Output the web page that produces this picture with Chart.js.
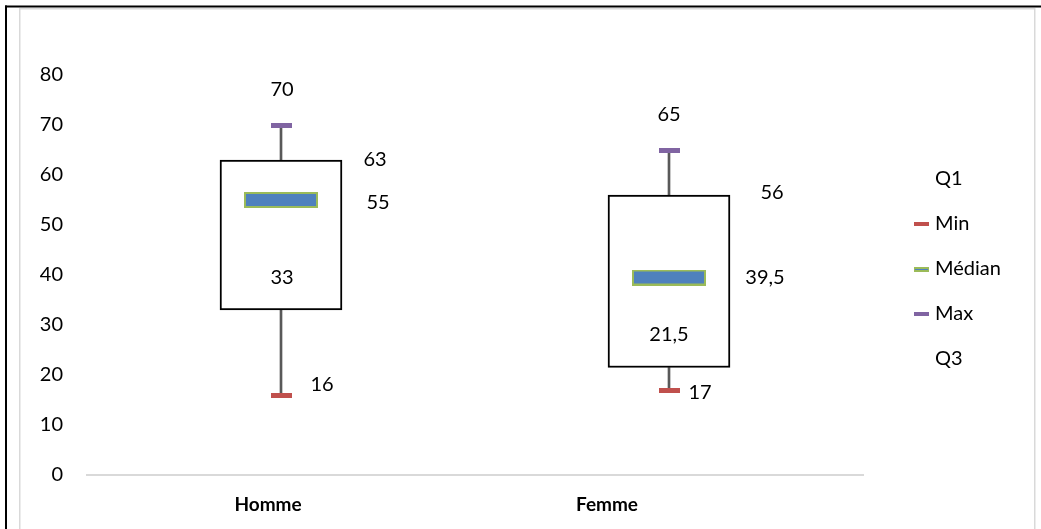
<!DOCTYPE html>
<html lang="fr">
<head>
<meta charset="utf-8">
<title>Boîtes à moustaches – Homme / Femme</title>
<script src="https://cdn.jsdelivr.net/npm/chart.js@4.4.1/dist/chart.umd.min.js"></script>
<style>
  html, body { margin: 0; padding: 0; background: #fff; }
  #wrap { position: relative; width: 1041px; height: 529px; }
  canvas { display: block; }
</style>
</head>
<body>
<div id="wrap"><canvas id="chart" width="1041" height="529"></canvas></div>
<script>
// ---- Data ----------------------------------------------------------------
const categories   = ['Homme', 'Femme'];
const seriesNames  = ['Q1', 'Min', 'Médian', 'Max', 'Q3'];
const q1Values     = [33, 21.5];
const minValues    = [16, 17];
const medianValues = [55, 39.5];
const maxValues    = [70, 65];
const q3Values     = [63, 56];
const yTickValues  = [0, 10, 20, 30, 40, 50, 60, 70, 80];

// ---- Styles --------------------------------------------------------------
const FONT_FAMILY = 'Lato, "Open Sans", sans-serif';
const TEXT_COLOR  = '#000000';
const COLORS = {
  min: '#C0504D',
  median: '#4F81BD',
  medianEdge: '#9BBB59',
  max: '#8064A2',
  whisker: '#595959',
  boxEdge: '#000000',
  frame: '#D9D9D9'
};

// small offscreen canvases used as point styles
function markCanvas(w, h, fill, edge, edgeW) {
  const c = document.createElement('canvas');
  c.width = w; c.height = h;
  const g = c.getContext('2d');
  g.fillStyle = fill;
  g.fillRect(0, 0, w, h);
  if (edge) {
    g.strokeStyle = edge;
    g.lineWidth = edgeW;
    g.strokeRect(edgeW / 2, edgeW / 2, w - edgeW, h - edgeW);
  }
  return c;
}
function medianLegendMark() {
  const c = document.createElement('canvas');
  c.width = 15; c.height = 5;
  const g = c.getContext('2d');
  g.fillStyle = COLORS.medianEdge;
  g.fillRect(0, 0, 15, 5);
  g.fillStyle = COLORS.median;
  g.fillRect(1, 2, 13, 1);
  return c;
}

const minMark    = markCanvas(21, 5, COLORS.min);
const maxMark    = markCanvas(21, 5, COLORS.max);
const medianMark = markCanvas(74, 16, COLORS.median, COLORS.medianEdge, 2);

const legendMarks = [null, markCanvas(15, 4, COLORS.min), medianLegendMark(), markCanvas(15, 4, COLORS.max), null];

const fmt = v => String(v).replace('.', ',');

// ---- Plugins -------------------------------------------------------------
// outer frame of the chart object
const framePlugin = {
  id: 'frame',
  beforeDraw(chart) {
    const { ctx, width, height } = chart;
    ctx.save();
    ctx.fillStyle = '#ffffff';
    ctx.fillRect(0, 0, width, height);
    ctx.fillStyle = COLORS.frame;
    ctx.fillRect(19, 8, 1016, 1.5);
    ctx.fillRect(19, 8, 1.5, height - 8);
    ctx.fillRect(1034, 8, 1.5, height - 8);
    ctx.fillStyle = '#000000';
    ctx.fillRect(5, 5.5, width - 5, 2);
    ctx.fillRect(5, 5.5, 2, height - 5.5);
    ctx.restore();
  }
};

// value labels next to each statistic
const valueLabelPlugin = {
  id: 'valueLabels',
  afterDatasetsDraw(chart, args, opts) {
    const { ctx, scales: { x, y } } = chart;
    ctx.save();
    ctx.font = opts.font;
    ctx.fillStyle = TEXT_COLOR;
    ctx.textAlign = 'center';
    ctx.textBaseline = 'middle';
    opts.groups.forEach(gp => {
      gp.values.forEach((v, i) => {
        const px = x.getPixelForValue(i) + gp.offsets[i][0];
        const py = y.getPixelForValue(v) + gp.offsets[i][1];
        ctx.fillText(fmt(v), px, py);
      });
    });
    ctx.restore();
  }
};

// category names under the axis
const categoryLabelPlugin = {
  id: 'categoryLabels',
  afterDraw(chart, args, opts) {
    const { ctx, scales: { x } } = chart;
    ctx.save();
    ctx.font = opts.font;
    ctx.fillStyle = TEXT_COLOR;
    ctx.textAlign = 'center';
    ctx.textBaseline = 'middle';
    categories.forEach((c, i) => {
      ctx.fillText(c, x.getPixelForValue(i) + opts.offsets[i], opts.y);
    });
    ctx.restore();
  }
};

// series key on the right
const keyPlugin = {
  id: 'seriesKey',
  afterDraw(chart, args, opts) {
    const { ctx } = chart;
    ctx.save();
    ctx.font = opts.font;
    ctx.fillStyle = TEXT_COLOR;
    ctx.textAlign = 'left';
    ctx.textBaseline = 'middle';
    seriesNames.forEach((name, i) => {
      const cy = opts.top + i * opts.step;
      const m = legendMarks[i];
      if (m) ctx.drawImage(m, opts.markX, Math.round(cy - m.height / 2));
      ctx.fillText(name, opts.textX, cy);
    });
    ctx.restore();
  }
};

// ---- Chart ---------------------------------------------------------------
const ctx = document.getElementById('chart').getContext('2d');
new Chart(ctx, {
  type: 'bar',
  data: {
    labels: categories,
    datasets: [
      {
        type: 'bar', label: 'Min–Q1',
        data: categories.map((_, i) => [minValues[i], q1Values[i]]),
        backgroundColor: COLORS.whisker, borderWidth: 0,
        barThickness: 2, grouped: false, order: 5
      },
      {
        type: 'bar', label: 'Q3–Max',
        data: categories.map((_, i) => [q3Values[i], maxValues[i]]),
        backgroundColor: COLORS.whisker, borderWidth: 0,
        barThickness: 2, grouped: false, order: 5
      },
      {
        type: 'bar', label: 'Q1–Q3',
        data: categories.map((_, i) => [q1Values[i], q3Values[i]]),
        backgroundColor: '#ffffff', borderColor: COLORS.boxEdge, borderWidth: 2,
        borderSkipped: false, barThickness: 122, grouped: false, order: 4
      },
      {
        type: 'line', label: 'Min', data: minValues,
        showLine: false, pointStyle: minMark, pointRadius: 10, pointHoverRadius: 10, order: 1
      },
      {
        type: 'line', label: 'Médian', data: medianValues,
        showLine: false, pointStyle: medianMark, pointRadius: 10, pointHoverRadius: 10, order: 1
      },
      {
        type: 'line', label: 'Max', data: maxValues,
        showLine: false, pointStyle: maxMark, pointRadius: 10, pointHoverRadius: 10, order: 1
      }
    ]
  },
  options: {
    responsive: false,
    animation: false,
    events: [],
    layout: { padding: { left: 0, right: 178, top: 75, bottom: 54 } },
    scales: {
      x: {
        offset: true,
        grid: { display: false, drawTicks: false },
        border: { display: true, color: COLORS.frame, width: 2 },
        ticks: { display: false }
      },
      y: {
        min: 0, max: 80,
        grid: { display: false, drawTicks: false },
        border: { display: false },
        afterBuildTicks: s => { s.ticks = yTickValues.map(v => ({ value: v })); },
        afterFit: s => { s.width = 87; },
        ticks: {
          padding: 24,
          color: TEXT_COLOR,
          font: { family: FONT_FAMILY, size: 20 }
        }
      }
    },
    plugins: {
      legend: { display: false },
      tooltip: { enabled: false },
      valueLabels: {
        font: '20px ' + FONT_FAMILY,
        groups: [
          { values: maxValues,    offsets: [[1, -35], [0, -35]] },
          { values: q3Values,     offsets: [[94, 0], [103, -2]] },
          { values: medianValues, offsets: [[97, 3], [96, 0]] },
          { values: q1Values,     offsets: [[1, -32], [0, -32.5]] },
          { values: minValues,    offsets: [[41, -10], [31, 3]] }
        ]
      },
      categoryLabels: {
        font: 'bold 19px ' + FONT_FAMILY,
        offsets: [-13, -62],
        y: 505
      },
      seriesKey: {
        font: '20px ' + FONT_FAMILY,
        markX: 914, textX: 935, top: 179, step: 45
      }
    }
  },
  plugins: [framePlugin, valueLabelPlugin, categoryLabelPlugin, keyPlugin]
});
</script>
</body>
</html>
